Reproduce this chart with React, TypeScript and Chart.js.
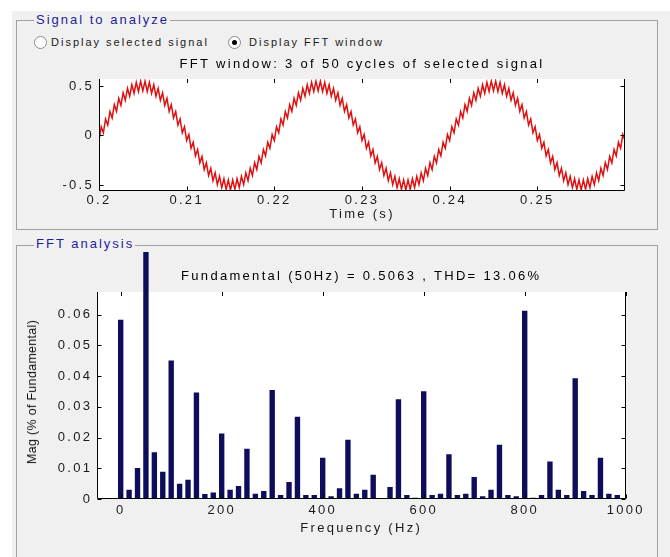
import React, { useEffect, useRef } from 'react';
import { Chart, registerables } from 'chart.js';

Chart.register(...registerables);

// ---------- Data ----------
const signalStart = 0.2; // s, first sample
const sampleStep = 0.00025; // s, sample spacing
const signalValues = [
  -0.050, 0.089, 0.028, 0.167, 0.105, 0.241, 0.177, 0.311, 0.244, 0.375,
  0.304, 0.430, 0.355, 0.476, 0.396, 0.512, 0.426, 0.536, 0.444, 0.548,
  0.450, 0.548, 0.444, 0.536, 0.426, 0.512, 0.396, 0.476, 0.355, 0.430,
  0.304, 0.375, 0.244, 0.311, 0.177, 0.241, 0.105, 0.167, 0.028, 0.089,
  -0.050, 0.011, -0.128, -0.067, -0.205, -0.141, -0.277, -0.211, -0.344, -0.275,
  -0.404, -0.330, -0.455, -0.376, -0.496, -0.412, -0.526, -0.436, -0.544, -0.448,
  -0.550, -0.448, -0.544, -0.436, -0.526, -0.412, -0.496, -0.376, -0.455, -0.330,
  -0.404, -0.275, -0.344, -0.211, -0.277, -0.141, -0.205, -0.067, -0.128, 0.011,
  -0.050, 0.089, 0.028, 0.167, 0.105, 0.241, 0.177, 0.311, 0.244, 0.375,
  0.304, 0.430, 0.355, 0.476, 0.396, 0.512, 0.426, 0.536, 0.444, 0.548,
  0.450, 0.548, 0.444, 0.536, 0.426, 0.512, 0.396, 0.476, 0.355, 0.430,
  0.304, 0.375, 0.244, 0.311, 0.177, 0.241, 0.105, 0.167, 0.028, 0.089,
  -0.050, 0.011, -0.128, -0.067, -0.205, -0.141, -0.277, -0.211, -0.344, -0.275,
  -0.404, -0.330, -0.455, -0.376, -0.496, -0.412, -0.526, -0.436, -0.544, -0.448,
  -0.550, -0.448, -0.544, -0.436, -0.526, -0.412, -0.496, -0.376, -0.455, -0.330,
  -0.404, -0.275, -0.344, -0.211, -0.277, -0.141, -0.205, -0.067, -0.128, 0.011,
  -0.050, 0.089, 0.028, 0.167, 0.105, 0.241, 0.177, 0.311, 0.244, 0.375,
  0.304, 0.430, 0.355, 0.476, 0.396, 0.512, 0.426, 0.536, 0.444, 0.548,
  0.450, 0.548, 0.444, 0.536, 0.426, 0.512, 0.396, 0.476, 0.355, 0.430,
  0.304, 0.375, 0.244, 0.311, 0.177, 0.241, 0.105, 0.167, 0.028, 0.089,
  -0.050, 0.011, -0.128, -0.067, -0.205, -0.141, -0.277, -0.211, -0.344, -0.275,
  -0.404, -0.330, -0.455, -0.376, -0.496, -0.412, -0.526, -0.436, -0.544, -0.448,
  -0.550, -0.448, -0.544, -0.436, -0.526, -0.412, -0.496, -0.376, -0.455, -0.330,
  -0.404, -0.275, -0.344, -0.211, -0.277, -0.141, -0.205, -0.067, -0.128, 0.011,
  -0.050,
];
const timeTicks = [0.2, 0.21, 0.22, 0.23, 0.24, 0.25];
const timeTickLabels = ['0.2', '0.21', '0.22', '0.23', '0.24', '0.25'];
const signalTicks = [-0.5, 0, 0.5];
const signalTickLabels = ['-0.5', '0', '0.5'];

const harmonicFreqs = [
  0, 16.67, 33.33, 50, 66.67, 83.33, 100, 116.67, 133.33, 150,
  166.67, 183.33, 200, 216.67, 233.33, 250, 266.67, 283.33, 300, 316.67,
  333.33, 350, 366.67, 383.33, 400, 416.67, 433.33, 450, 466.67, 483.33,
  500, 516.67, 533.33, 550, 566.67, 583.33, 600, 616.67, 633.33, 650,
  666.67, 683.33, 700, 716.67, 733.33, 750, 766.67, 783.33, 800, 816.67,
  833.33, 850, 866.67, 883.33, 900, 916.67, 933.33, 950, 966.67, 983.33,
];
const harmonicMags = [
  0.0584, 0.0030, 0.0101, 1.0, 0.0152, 0.0089, 0.0451, 0.0050, 0.0063, 0.0347,
  0.0016, 0.0021, 0.0213, 0.0030, 0.0042, 0.0164, 0.0017, 0.0026, 0.0355, 0.0013,
  0.0055, 0.0268, 0.0013, 0.0013, 0.0134, 0.0009, 0.0035, 0.0193, 0.0017, 0.0030,
  0.0079, 0.0003, 0.0039, 0.0325, 0.0013, 0.0004, 0.0351, 0.0013, 0.0017, 0.0146,
  0.0013, 0.0017, 0.0072, 0.0009, 0.0030, 0.0177, 0.0013, 0.0009, 0.0613, 0.0004,
  0.0013, 0.0122, 0.0030, 0.0013, 0.0393, 0.0026, 0.0013, 0.0134, 0.0017, 0.0013,
];
const freqTicks = [0, 200, 400, 600, 800, 1000];
const freqTickLabels = ['0', '200', '400', '600', '800', '1000'];
const magTicks = [0, 0.01, 0.02, 0.03, 0.04, 0.05, 0.06];
const magTickLabels = ['0', '0.01', '0.02', '0.03', '0.04', '0.05', '0.06'];

const signalPanelTitle = 'Signal to analyze';
const radioLabels = ['Display selected signal', 'Display FFT window'];
const signalChartTitle = 'FFT window: 3 of 50 cycles of selected signal';
const signalXTitle = 'Time (s)';
const fftPanelTitle = 'FFT analysis';
const fftChartTitle = 'Fundamental (50Hz) = 0.5063 , THD= 13.06%';
const fftXTitle = 'Frequency (Hz)';
const fftYTitle = 'Mag (% of Fundamental)';

// ---------- Styles ----------
const FONT = "'Liberation Sans', Arial, Helvetica, sans-serif";
const PANEL_BG = '#f0f0f0';
const TEXT = '#1a1a1a';

const spacingPlugin = {
  id: 'letterSpacing',
  beforeUpdate(chart: any) {
    chart.ctx.letterSpacing = '2.3px';
  },
  beforeDraw(chart: any) {
    chart.ctx.letterSpacing = '2.3px';
    const { ctx, chartArea } = chart;
    ctx.save();
    ctx.fillStyle = '#ffffff';
    ctx.fillRect(chartArea.left, chartArea.top, chartArea.right - chartArea.left, chartArea.bottom - chartArea.top);
    ctx.restore();
  },
};

const framePlugin = {
  id: 'matlabFrame',
  afterDatasetsDraw(chart: any) {
    const { ctx, chartArea } = chart;
    const xs = chart.scales.x;
    const ys = chart.scales.y;
    const L = Math.round(chartArea.left) + 0.5;
    const R = Math.round(chartArea.right) - 0.5;
    const T = chartArea.top;
    const B = Math.round(chartArea.bottom) - 0.5;
    const len = 4;
    ctx.save();
    ctx.strokeStyle = '#000';
    ctx.lineWidth = 1;
    ctx.beginPath();
    ctx.moveTo(L, T);
    ctx.lineTo(L, B);
    ctx.lineTo(R, B);
    ctx.lineTo(R, T);
    xs.ticks.forEach((t: any) => {
      const px = Math.round(xs.getPixelForValue(t.value)) + 0.5;
      ctx.moveTo(px, B);
      ctx.lineTo(px, B - len);
      ctx.moveTo(px, T);
      ctx.lineTo(px, T + len);
    });
    ys.ticks.forEach((t: any) => {
      const py = Math.round(ys.getPixelForValue(t.value)) + 0.5;
      ctx.moveTo(L, py);
      ctx.lineTo(L + len, py);
      ctx.moveTo(R, py);
      ctx.lineTo(R - len, py);
    });
    ctx.stroke();
    ctx.restore();
  },
};

const tickFont = { family: FONT, size: 13 };

function SignalChart() {
  const ref = useRef<HTMLCanvasElement>(null);
  useEffect(() => {
    if (!ref.current) return;
    const chart = new Chart(ref.current, {
      type: 'line',
      data: {
        datasets: [
          {
            data: signalValues.map((v, i) => ({ x: signalStart + i * sampleStep, y: v })),
            borderColor: '#e01010',
            borderWidth: 1.5,
            pointRadius: 0,
            tension: 0,
          },
        ],
      },
      options: {
        animation: false,
        responsive: false,
        events: [],
        layout: { padding: { left: 0, right: 32, top: 0, bottom: 0 } },
        plugins: {
          legend: { display: false },
          tooltip: { enabled: false },
          title: {
            display: true,
            fullSize: false,
            text: signalChartTitle,
            color: '#000',
            font: { family: FONT, size: 13, weight: 'normal' },
            padding: { top: 8.2, bottom: 7.2 },
          },
        },
        scales: {
          x: {
            type: 'linear',
            min: 0.2,
            max: 0.26,
            offset: false,
            grid: { display: false, drawTicks: false },
            border: { display: false },
            afterBuildTicks: (s: any) => {
              s.ticks = timeTicks.map((v) => ({ value: v }));
            },
            ticks: {
              autoSkip: false,
              maxRotation: 0,
              padding: 2,
              color: TEXT,
              font: tickFont,
              callback: (_v: any, i: number) => timeTickLabels[i],
            },
            title: {
              display: true,
              text: signalXTitle,
              color: TEXT,
              font: tickFont,
              padding: { top: 0, bottom: 6 },
            },
            afterFit: (s: any) => {
              s.height = 37;
            },
          },
          y: {
            type: 'linear',
            min: -0.56,
            max: 0.57,
            grid: { display: false, drawTicks: false },
            border: { display: false },
            afterBuildTicks: (s: any) => {
              s.ticks = signalTicks.map((v) => ({ value: v }));
            },
            ticks: {
              padding: 5,
              color: TEXT,
              font: tickFont,
              callback: (_v: any, i: number) => signalTickLabels[i],
            },
            afterFit: (s: any) => {
              s.width = 82;
            },
          },
        },
      } as any,
      plugins: [spacingPlugin, framePlugin],
    });
    return () => chart.destroy();
  }, []);
  return (
    <canvas
      ref={ref}
      width={640}
      height={180}
      style={{ position: 'absolute', left: 17, top: 48, width: 640, height: 180 }}
    />
  );
}

function FftChart() {
  const ref = useRef<HTMLCanvasElement>(null);
  useEffect(() => {
    if (!ref.current) return;
    const chart = new Chart(ref.current, {
      type: 'bar',
      data: {
        datasets: [
          {
            data: harmonicFreqs.map((f, i) => ({ x: f, y: harmonicMags[i] })),
            backgroundColor: '#0d0d5c',
            borderWidth: 0,
            barPercentage: 0.8,
            categoryPercentage: 0.8,
            clip: { left: 0, right: 0, bottom: 0, top: false },
          } as any,
        ],
      },
      options: {
        animation: false,
        responsive: false,
        events: [],
        layout: { padding: { left: 0, right: 31.3, top: 0, bottom: 0 } },
        plugins: {
          legend: { display: false },
          tooltip: { enabled: false },
          title: {
            display: true,
            fullSize: false,
            text: fftChartTitle,
            color: '#000',
            font: { family: FONT, size: 13, weight: 'normal' },
            padding: { top: 16.2, bottom: 8.2 },
          },
        },
        scales: {
          x: {
            type: 'linear',
            min: -47.5,
            max: 1000,
            offset: false,
            grid: { display: false, drawTicks: false, offset: false },
            border: { display: false },
            afterBuildTicks: (s: any) => {
              s.ticks = freqTicks.map((v) => ({ value: v }));
            },
            ticks: {
              autoSkip: false,
              maxRotation: 0,
              padding: 4,
              color: TEXT,
              font: tickFont,
              callback: (_v: any, i: number) => freqTickLabels[i],
            },
            title: {
              display: true,
              text: fftXTitle,
              color: TEXT,
              font: tickFont,
              padding: { top: 0, bottom: 16 },
            },
            afterFit: (s: any) => {
              s.height = 53;
            },
          },
          y: {
            type: 'linear',
            min: 0,
            max: 0.0674,
            grid: { display: false, drawTicks: false },
            border: { display: false },
            afterBuildTicks: (s: any) => {
              s.ticks = magTicks.map((v) => ({ value: v }));
            },
            ticks: {
              padding: 4.4,
              color: TEXT,
              font: tickFont,
              callback: (_v: any, i: number) => magTickLabels[i],
            },
            afterFit: (s: any) => {
              s.width = 79.7;
            },
          },
        },
      } as any,
      plugins: [spacingPlugin, framePlugin],
    });
    return () => chart.destroy();
  }, []);
  return (
    <canvas
      ref={ref}
      width={640}
      height={300}
      style={{ position: 'absolute', left: 17, top: 252, width: 640, height: 300 }}
    />
  );
}

function Radio({ cx, cy, checked }: { cx: number; cy: number; checked: boolean }) {
  return (
    <div
      style={{
        position: 'absolute',
        left: cx - 6.5,
        top: cy - 6.5,
        width: 13,
        height: 13,
        borderRadius: '50%',
        border: '1px solid #8a8a8a',
        background: '#ffffff',
        boxSizing: 'border-box',
      }}
    >
      {checked ? (
        <div
          style={{
            position: 'absolute',
            left: 3,
            top: 3,
            width: 5,
            height: 5,
            borderRadius: '50%',
            background: '#000',
          }}
        />
      ) : null}
    </div>
  );
}

const panelTitleStyle: React.CSSProperties = {
  position: 'absolute',
  left: 34,
  padding: '0 1px 0 2px',
  background: PANEL_BG,
  color: '#1e1e9c',
  fontSize: 13,
  lineHeight: '15px',
  letterSpacing: '2px',
  whiteSpace: 'nowrap',
};

const radioTextStyle: React.CSSProperties = {
  position: 'absolute',
  top: 35,
  fontSize: 11,
  lineHeight: '14px',
  letterSpacing: '2px',
  color: TEXT,
  whiteSpace: 'nowrap',
};

export default function App() {
  return (
    <div
      style={{
        position: 'absolute',
        left: 0,
        top: 0,
        width: 670,
        height: 557,
        overflow: 'hidden',
        background: '#ffffff',
        fontFamily: FONT,
      }}
    >
      <div style={{ position: 'absolute', left: 12, top: 11, right: 0, bottom: 0, background: PANEL_BG }} />

      {/* Signal panel */}
      <div
        style={{
          position: 'absolute',
          left: 16,
          top: 20,
          width: 642,
          height: 210,
          border: '1px solid #a0a0a0',
          boxSizing: 'border-box',
        }}
      />
      <div style={{ ...panelTitleStyle, top: 12 }}>{signalPanelTitle}</div>
      <Radio cx={40.5} cy={42} checked={false} />
      <div style={{ ...radioTextStyle, left: 51 }}>{radioLabels[0]}</div>
      <Radio cx={234} cy={42} checked={true} />
      <div style={{ ...radioTextStyle, left: 249 }}>{radioLabels[1]}</div>
      <SignalChart />

      {/* FFT panel */}
      <div
        style={{
          position: 'absolute',
          left: 16,
          top: 245,
          width: 642,
          height: 400,
          border: '1px solid #a0a0a0',
          boxSizing: 'border-box',
        }}
      />
      <div style={{ ...panelTitleStyle, top: 236 }}>{fftPanelTitle}</div>
      <FftChart />
      <div
        style={{
          position: 'absolute',
          left: 32,
          top: 392,
          transform: 'translate(-50%, -50%) rotate(-90deg)',
          fontSize: 12.5,
          lineHeight: '14px',
          letterSpacing: '0.3px',
          color: '#111',
          whiteSpace: 'nowrap',
        }}
      >
        {fftYTitle}
      </div>
    </div>
  );
}
